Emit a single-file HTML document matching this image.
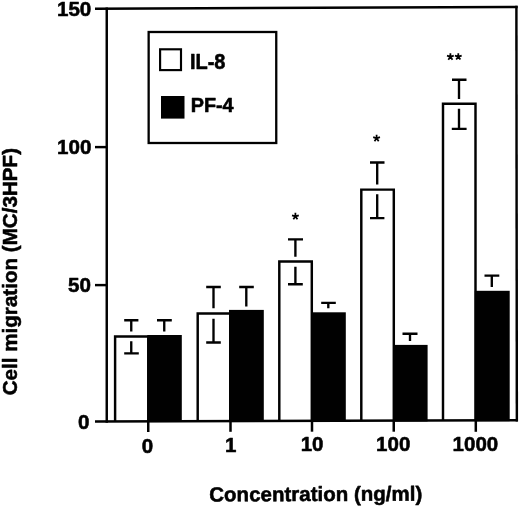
<!DOCTYPE html>
<html>
<head>
<meta charset="utf-8">
<style>
html,body{margin:0;padding:0;background:#fff;}
body{width:520px;height:507px;overflow:hidden;}
svg{display:block;opacity:0.999;will-change:transform;}
text{font-family:"Liberation Sans",sans-serif;font-weight:bold;fill:#000;stroke:#000;stroke-width:0.55;stroke-linejoin:round;}
</style>
</head>
<body>
<svg width="520" height="507" viewBox="0 0 520 507">
<rect x="0" y="0" width="520" height="507" fill="#fff"/>



<!-- white bars (IL-8) -->
<g stroke="#000" stroke-width="2.45" fill="#fff">
  <path d="M115.1 421.4 V336.4 H148.3 V421.4"/>
  <path d="M197.7 421.2 V313.5 H230.5 V421.2"/>
  <path d="M279.3 420.9 V261.4 H311.8 V420.9"/>
  <path d="M361.3 420.7 V189.6 H393.8 V420.7"/>
  <path d="M443 420.5 V103.8 H475.5 V420.5"/>
</g>

<!-- black bars (PF-4) -->
<g fill="#000">
  <rect x="147.3" y="335" width="34.5" height="87"/>
  <rect x="229" y="309.9" width="34.8" height="112.0"/>
  <rect x="311.2" y="312.3" width="34.6" height="109.3"/>
  <rect x="393.0" y="344.9" width="34.6" height="76.5"/>
  <rect x="474.8" y="290.8" width="34.9" height="130.4"/>
</g>

<!-- frame -->
<g stroke="#000" stroke-width="2.45" fill="none" stroke-linecap="butt">
  <line x1="95" y1="8.7" x2="517.7" y2="7.0"/>
  <line x1="95" y1="421.4" x2="517.8" y2="420.2"/>
  <line x1="106.75" y1="7.4" x2="106.75" y2="422.7"/>
  <line x1="516.4" y1="5.8" x2="516.85" y2="421.5"/>
  <line x1="95" y1="147.1" x2="106.75" y2="147.1"/>
  <line x1="95" y1="285.1" x2="106.75" y2="285.1"/>
</g>

<!-- x ticks -->
<g stroke="#000" stroke-width="2.5" fill="none">
  <line x1="148.25" y1="421" x2="148.25" y2="432"/>
  <line x1="230.5" y1="421" x2="230.5" y2="431.8"/>
  <line x1="312" y1="420.6" x2="312" y2="431.7"/>
  <line x1="393.75" y1="420.4" x2="393.75" y2="431.7"/>
  <line x1="475.8" y1="420.2" x2="475.8" y2="431.8"/>
</g>

<!-- error bars -->
<g stroke="#000" stroke-width="2.35" fill="none">
  <!-- G0 IL-8 -->
  <path d="M124.2 320.2 H138.4 M131.25 320.2 V331.5 M131.25 341.3 V353.3 M124.2 353.3 H138.8"/>
  <!-- G0 PF-4 -->
  <path d="M157 320.2 H171.8 M164.25 320.2 V331.5"/>
  <!-- G1 IL-8 -->
  <path d="M206.2 287 H220.8 M213.5 287 V308.3 M213.5 318.7 V342.5 M206.2 342.5 H220.8"/>
  <!-- G1 PF-4 -->
  <path d="M239.2 287 H253.8 M246.3 287 V306.6"/>
  <!-- G2 IL-8 -->
  <path d="M288 239.4 H303 M295.4 239.4 V256.8 M295.4 266.8 V284.2 M288 284.2 H302.8"/>
  <!-- G2 PF-4 -->
  <path d="M321.2 302.8 H335.8 M328.3 302.8 V308.2"/>
  <!-- G3 IL-8 -->
  <path d="M370 162.5 H384.5 M377.2 162.5 V184.6 M377.2 194.2 V218.1 M370 218.1 H384.4"/>
  <!-- G3 PF-4 -->
  <path d="M402.5 333.7 H417.5 M410 333.7 V340.9"/>
  <!-- G4 IL-8 -->
  <path d="M452 79.7 H466.5 M459 79.7 V98.9 M459 108.7 V128.9 M451.8 128.9 H466.6"/>
  <!-- G4 PF-4 -->
  <path d="M484.5 275.6 H499.3 M491.8 275.6 V287"/>
</g>

<!-- legend -->
<rect x="148.65" y="32.0" width="127.6" height="111.0" fill="#fff" stroke="#000" stroke-width="2.3"/>
<rect x="160.1" y="49.3" width="20.9" height="20.8" fill="#fff" stroke="#000" stroke-width="2.15"/>
<rect x="161" y="96" width="23.5" height="22.6" fill="#000"/>
<text transform="translate(189.9,68.85) scale(0.975,1.04)" font-size="20.5">IL-8</text>
<text transform="translate(190.7,112.2) scale(0.985,1.015)" font-size="20.1">PF-4</text>

<!-- y tick labels -->
<text x="91.3" y="16.3" font-size="20.6" text-anchor="end">150</text>
<text x="91.4" y="153.8" font-size="20.6" text-anchor="end">100</text>
<text x="91.0" y="292.3" font-size="20.6" text-anchor="end">50</text>
<text x="89.4" y="428.6" font-size="20.6" text-anchor="end">0</text>

<!-- x tick labels -->
<text x="147.4" y="452.6" font-size="20.5" text-anchor="middle">0</text>
<text x="230.6" y="451.9" font-size="20.5" text-anchor="middle">1</text>
<text x="312.1" y="451.2" font-size="20.5" text-anchor="middle">10</text>
<text x="393.2" y="451.3" font-size="20.5" text-anchor="middle">100</text>
<text x="475.4" y="451.3" font-size="20.5" text-anchor="middle">1000</text>

<!-- stars -->
<g stroke="#000" stroke-width="1.75" fill="none" stroke-linecap="butt">
  <path d="M295.40 216.40 L295.40 212.85 M295.40 216.40 L298.78 215.30 M295.40 216.40 L297.49 219.27 M295.40 216.40 L293.31 219.27 M295.40 216.40 L292.02 215.30"/>
  <path d="M376.60 138.30 L376.60 134.75 M376.60 138.30 L379.98 137.20 M376.60 138.30 L378.69 141.17 M376.60 138.30 L374.51 141.17 M376.60 138.30 L373.22 137.20"/>
  <path d="M450.40 56.80 L450.40 53.25 M450.40 56.80 L453.78 55.70 M450.40 56.80 L452.49 59.67 M450.40 56.80 L448.31 59.67 M450.40 56.80 L447.02 55.70"/>
  <path d="M458.30 56.70 L458.30 53.15 M458.30 56.70 L461.68 55.60 M458.30 56.70 L460.39 59.57 M458.30 56.70 L456.21 59.57 M458.30 56.70 L454.92 55.60"/>
</g>

<!-- axis titles -->
<text x="209.3" y="501.4" font-size="20.5" transform="rotate(-0.2 209.3 501.4)">Concentration (ng/ml)</text>
<text transform="translate(16.9,395.3) rotate(-90)" font-size="20.62">Cell migration (MC/3HPF)</text>
</svg>
</body>
</html>
